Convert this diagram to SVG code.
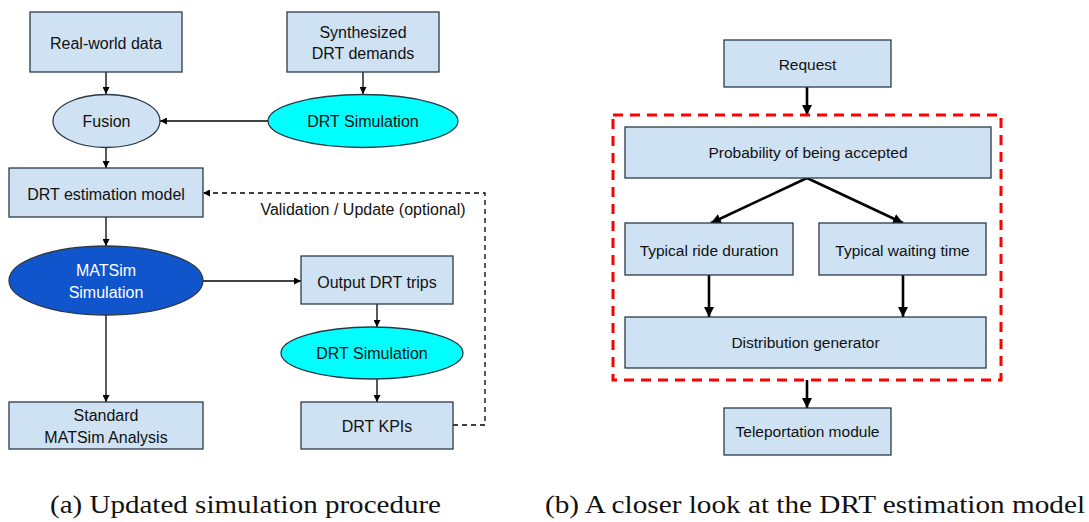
<svg xmlns="http://www.w3.org/2000/svg" width="1089" height="522" viewBox="0 0 1089 522">
<defs>
<style>
.box{fill:#cfe2f3;stroke:#2b3a47;stroke-width:1.3}
.cy{fill:#00ffff;stroke:#2b3a47;stroke-width:1.3}
.blue{fill:#1155cc;stroke:#2b3a47;stroke-width:1.3}
.t{font-family:"Liberation Sans",Arial,sans-serif;font-size:16px;fill:#111;text-anchor:middle}
.tr{font-family:"Liberation Sans",Arial,sans-serif;font-size:15.5px;fill:#111;text-anchor:middle}
.w{fill:#fff}
.cap{font-family:"Liberation Serif","Times New Roman",serif;font-size:26px;fill:#111}
.thin{stroke:#000;stroke-width:1.3;fill:none}
.thick{stroke:#000;stroke-width:2.6;fill:none}
.dash{stroke:#000;stroke-width:1.3;fill:none;stroke-dasharray:5,4}
</style>
<marker id="a1" viewBox="0 0 10 10" refX="10" refY="5" markerWidth="7" markerHeight="7" markerUnits="userSpaceOnUse" orient="auto"><path d="M0,0 L10,5 L0,10 z" fill="#000"/></marker>
<marker id="a2" viewBox="0 0 10 10" refX="10" refY="5" markerWidth="10" markerHeight="10" markerUnits="userSpaceOnUse" orient="auto"><path d="M0,0 L10,5 L0,10 z" fill="#000"/></marker>
</defs>
<rect width="1089" height="522" fill="#fff"/>

<g id="connectors">
<line class="thin" x1="106" y1="72" x2="106" y2="94" marker-end="url(#a1)"/>
<line class="thin" x1="363" y1="72" x2="363" y2="94" marker-end="url(#a1)"/>
<line class="thin" x1="268" y1="121" x2="160" y2="121" marker-end="url(#a1)"/>
<line class="thin" x1="106" y1="147" x2="106" y2="168" marker-end="url(#a1)"/>
<line class="thin" x1="106" y1="217" x2="106" y2="246" marker-end="url(#a1)"/>
<line class="thin" x1="203" y1="281" x2="301" y2="281" marker-end="url(#a1)"/>
<line class="thin" x1="106" y1="315" x2="106" y2="402" marker-end="url(#a1)"/>
<line class="thin" x1="377" y1="304" x2="377" y2="327" marker-end="url(#a1)"/>
<line class="thin" x1="377" y1="379" x2="377" y2="402" marker-end="url(#a1)"/>
<polyline class="dash" points="453,425 485,425 485,193 203,193" marker-end="url(#a1)"/>
<line class="thick" x1="807" y1="87" x2="807" y2="115" marker-end="url(#a2)"/>
<line class="thick" x1="807" y1="178" x2="711" y2="223" marker-end="url(#a2)"/>
<line class="thick" x1="807" y1="178" x2="903" y2="223" marker-end="url(#a2)"/>
<line class="thick" x1="709" y1="275" x2="709" y2="317" marker-end="url(#a2)"/>
<line class="thick" x1="903" y1="275" x2="903" y2="317" marker-end="url(#a2)"/>
<line class="thick" x1="807" y1="380" x2="807" y2="408" marker-end="url(#a2)"/>
</g>

<text class="t" x="363" y="215">Validation / Update (optional)</text>

<g id="real-world"><rect class="box" x="30" y="12" width="152" height="60"/><text class="t" x="106" y="48.5">Real-world data</text></g>
<g id="synth"><rect class="box" x="287" y="12" width="152" height="60"/><text class="t" x="363" y="37.5">Synthesized</text><text class="t" x="363" y="58.5">DRT demands</text></g>
<g id="fusion"><ellipse class="box" cx="106.5" cy="121" rx="53.5" ry="26.5"/><text class="t" x="106.5" y="127">Fusion</text></g>
<g id="drt-sim-1"><ellipse class="cy" cx="363" cy="121" rx="95" ry="26.5"/><text class="t" x="363" y="127">DRT Simulation</text></g>
<g id="drt-est"><rect class="box" x="9" y="168" width="194" height="49"/><text class="t" x="106" y="199.5">DRT estimation model</text></g>
<g id="matsim"><ellipse class="blue" cx="106" cy="280.5" rx="97" ry="34.5"/><text class="t w" x="106" y="276">MATSim</text><text class="t w" x="106" y="298">Simulation</text></g>
<g id="output-trips"><rect class="box" x="301" y="256" width="152" height="48"/><text class="t" x="377" y="287.5">Output DRT trips</text></g>
<g id="drt-sim-2"><ellipse class="cy" cx="372" cy="353" rx="91" ry="26"/><text class="t" x="372" y="358.5">DRT Simulation</text></g>
<g id="kpis"><rect class="box" x="301" y="402" width="152" height="47"/><text class="t" x="377" y="432">DRT KPIs</text></g>
<g id="standard"><rect class="box" x="9" y="402" width="194" height="47"/><text class="t" x="106" y="421">Standard</text><text class="t" x="106" y="443">MATSim Analysis</text></g>

<g id="estimation-model-frame"><rect x="613" y="115" width="388" height="265" fill="none" stroke="#ff0000" stroke-width="3" stroke-dasharray="10,7"/></g>
<g id="request"><rect class="box" x="724" y="40" width="167" height="47"/><text class="tr" x="807.5" y="69.5">Request</text></g>
<g id="probability"><rect class="box" x="625" y="127" width="366" height="51"/><text class="tr" x="808" y="158">Probability of being accepted</text></g>
<g id="ride"><rect class="box" x="625" y="223" width="168" height="52"/><text class="tr" x="709" y="255.5">Typical ride duration</text></g>
<g id="waiting"><rect class="box" x="819" y="223" width="167" height="52"/><text class="tr" x="902.5" y="255.5">Typical waiting time</text></g>
<g id="distribution"><rect class="box" x="625" y="317" width="361" height="51"/><text class="tr" x="805.5" y="348">Distribution generator</text></g>
<g id="teleport"><rect class="box" x="724" y="408" width="167" height="47"/><text class="tr" x="807.5" y="437">Teleportation module</text></g>

<text class="cap" x="50" y="513" textLength="391" lengthAdjust="spacingAndGlyphs">(a) Updated simulation procedure</text>
<text class="cap" x="545" y="513" textLength="540" lengthAdjust="spacingAndGlyphs">(b) A closer look at the DRT estimation model</text>
</svg>
